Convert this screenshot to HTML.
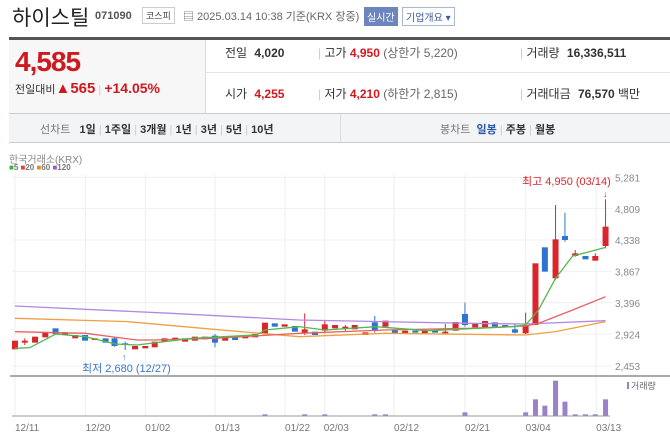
<!DOCTYPE html>
<html><head><meta charset="utf-8">
<style>
*{margin:0;padding:0;box-sizing:border-box}
body{width:670px;height:448px;background:#fff;font-family:"Liberation Sans","Noto Sans CJK KR",sans-serif;position:relative;overflow:hidden;color:#333}
.a{position:absolute;white-space:nowrap}
.r{color:#d0181f}
</style></head><body>
<div class="a" style="left:12px;top:2px;font-size:21px;color:#222">하이스틸</div>
<div class="a" style="left:95px;top:10px;font-size:11px;font-weight:bold;color:#555">071090</div>
<div class="a" style="left:142px;top:7px;font-size:9px;border:1px solid #ccc;padding:1px 3px;color:#444">코스피</div>
<div class="a" style="left:183px;top:8px;font-size:11px;color:#666">▤ 2025.03.14 10:38 기준(KRX 장중)</div>
<div class="a" style="left:364px;top:7px;font-size:10px;background:#6b86bd;color:#fff;padding:2px 3px">실시간</div>
<div class="a" style="left:402px;top:7px;font-size:10px;border:1px solid #aab8d6;color:#3c5a9a;padding:1px 3px">기업개요 ▾</div>
<div class="a" style="left:9px;top:37px;width:661px;height:3px;background:#555"></div>
<div class="a" style="left:9px;top:40px;width:197px;height:73px;background:#f7f7f7;border-right:1px solid #ddd"></div>
<div class="a r" style="left:15px;top:46px;font-size:28px;font-weight:bold;letter-spacing:-1px">4,585</div>
<div class="a" style="left:15px;top:80px;font-size:11px;color:#333">전일대비<span class="r" style="font-size:15px;font-weight:bold">▲565</span> <span style="color:#ccc">|</span> <span class="r" style="font-size:14px;font-weight:bold">+14.05%</span></div>
<div class="a" style="left:206px;top:72px;width:464px;height:1px;background:#e6e6e6"></div>
<div class="a" style="left:225px;top:44px;font-size:12px">전일 <b style="margin-left:4px">4,020</b></div>
<div class="a" style="left:318px;top:44px;font-size:12px"><span style="color:#ccc">|</span> 고가 <b class="r">4,950</b> <span style="color:#666">(상한가 5,220)</span></div>
<div class="a" style="left:520px;top:44px;font-size:12px"><span style="color:#ccc">|</span> 거래량 <b style="margin-left:4px">16,336,511</b></div>
<div class="a" style="left:225px;top:85px;font-size:12px">시가 <b class="r" style="margin-left:4px">4,255</b></div>
<div class="a" style="left:318px;top:85px;font-size:12px"><span style="color:#ccc">|</span> 저가 <b class="r">4,210</b> <span style="color:#666">(하한가 2,815)</span></div>
<div class="a" style="left:520px;top:85px;font-size:12px"><span style="color:#ccc">|</span> 거래대금 <b style="margin-left:4px">76,570</b> 백만</div>
<div class="a" style="left:9px;top:113px;width:661px;height:30px;background:#f3f4f6;border-top:1px solid #ccc;border-bottom:1px solid #ccc"></div>
<div class="a" style="left:340px;top:114px;width:1px;height:28px;background:#ddd"></div>
<div class="a" style="left:40px;top:121px;font-size:11px;color:#333"><span style="color:#777">선차트</span>&nbsp;&nbsp; <b>1일</b> <span style="color:#ccc">|</span> <b>1주일</b> <span style="color:#ccc">|</span> <b>3개월</b> <span style="color:#ccc">|</span> <b>1년</b> <span style="color:#ccc">|</span> <b>3년</b> <span style="color:#ccc">|</span> <b>5년</b> <span style="color:#ccc">|</span> <b>10년</b></div>
<div class="a" style="left:440px;top:121px;font-size:11px;color:#333"><span style="color:#777">봉차트</span>&nbsp; <b style="color:#2a5ab0">일봉</b> <span style="color:#ccc">|</span> <b>주봉</b> <span style="color:#ccc">|</span> <b>월봉</b></div>
<div class="a" style="left:9px;top:151px;font-size:10px;color:#888">한국거래소(KRX)</div>
<div class="a" style="left:9px;top:163px;font-size:8px;font-weight:bold;color:#777"><span style="color:#3cb043">■</span>5 <span style="color:#e04040">■</span>20 <span style="color:#f08a20">■</span>60 <span style="color:#9a5cc8">■</span>120</div>
<svg class="a" style="left:0;top:0" width="670" height="448" id="s"></svg>
<script>
const X=z=>z/2.34, Y=z=>170+z/3;
let h='';
const gx=[35,200,340,503,667,760,922,1088,1230,1395];
gx.forEach(g=>h+=`<line x1="${X(g)}" y1="175" x2="${X(g)}" y2="416" stroke="#eee"/>`);
[22,116,210,304,398,492,588].forEach(g=>h+=`<line x1="12" y1="${Y(g)}" x2="612" y2="${Y(g)}" stroke="#f0f0f0"/>`);
h+=`<line x1="10" y1="376" x2="670" y2="376" stroke="#aaa" stroke-width="2"/>`;
h+=`<line x1="12" y1="416" x2="610" y2="416" stroke="#999"/>`;
const labs=['5,281','4,809','4,338','3,867','3,396','2,924','2,453'];
labs.forEach((l,i)=>h+=`<text x="615" y="${Y(22+i*94.3)+4}" font-size="10" fill="#888">${l}</text>`);
const dl=['12/11','12/20','01/02','01/13','01/22','02/03','02/12','02/21','03/04','03/13'];
dl.forEach((d,i)=>h+=`<text x="${X(gx[i])+(i==5?-1:0)}" y="431" font-size="10" fill="#777">${d}</text>`);
const C=[[35,'r',512,538],[58,'r',512,518,505,525],[82,'r',500,518],[106,'r',488,502],[130,'b',475,492],[152,'r',487,495],[176,'r',495,505],[199,'b',495,512],[222,'r',505,510],[247,'b',505,518],[268,'b',505,528,500,530],[293,'b',520,523,515,540],[316,'r',528,538],[340,'r',528,535],[362,'r',515,532],[385,'r',505,515],[410,'r',503,508],[433,'r',505,515],[456,'r',500,512],[479,'r',500,508],[503,'b',497,518,492,532],[527,'r',500,512],[550,'b',502,510],[574,'r',500,505],[597,'r',492,502],[620,'r',458,492],[643,'b',460,470],[666,'r',463,470],[690,'b',468,485],[713,'r',478,490,430,495],[737,'b',485,495],[760,'r',463,482,450,490],[784,'r',465,475],[808,'r',470,475,465,482],[830,'r',465,478],[855,'r',487,495],[877,'b',457,483,438,488],[902,'r',452,470],[924,'b',480,490],[948,'r',482,490],[972,'b',482,488],[994,'r',482,490],[1018,'b',480,488],[1042,'r',485,490,462,492],[1066,'r',456,482],[1088,'b',432,465,398,470],[1112,'r',462,472],[1135,'r',453,472],[1158,'b',457,470],[1182,'b',465,472],[1205,'b',478,488,462,490],[1230,'r',465,490,428,492],[1253,'r',280,465],[1275,'b',232,305],[1300,'r',208,325,105,330],[1322,'b',198,210,128,215],[1346,'r',250,258,240,260],[1370,'b',258,268],[1393,'r',258,272,250,272],[1417,'r',170,228,88,235]];
C.forEach(c=>{const col=c[1]=='r'?'#d9262c':'#2f73d0';const x=X(c[0]);
if(c[4])h+=`<line x1="${x}" y1="${Y(c[4])}" x2="${x}" y2="${Y(c[5])}" stroke="${col}"/>`;
h+=`<rect x="${x-3}" y="${Y(c[2])}" width="6" height="${Math.max(1.5,(c[3]-c[2])/3)}" fill="${col}"/>`;});
const L=(pts,col)=>h+=`<polyline fill="none" stroke="${col}" stroke-width="1.3" points="${pts.map(p=>X(p[0])+','+Y(p[1])).join(' ')}"/>`;
L([[35,408],[400,430],[700,450],[1100,460],[1230,462],[1417,452]],'#b08ae0');
L([[35,445],[300,455],[500,478],[700,500],[900,490],[1230,495],[1300,485],[1417,455]],'#f0a040');
L([[35,485],[200,490],[320,510],[360,510],[500,505],[700,490],[900,480],[1100,475],[1230,468],[1260,460],[1340,420],[1417,380]],'#e86060');
L([[35,535],[70,533],[130,492],[200,500],[270,522],[320,525],[450,505],[600,495],[620,480],[700,470],[760,480],[880,470],[1000,482],[1200,470],[1230,465],[1260,420],[1300,325],[1340,258],[1380,245],[1417,232]],'#50b850');
const V=[[620,733],[713,733],[760,733],[877,733],[902,733],[1088,727],[1230,727],[1253,688],[1275,707],[1300,632],[1322,695],[1346,733],[1370,733],[1393,733],[1417,688]];
V.forEach(v=>h+=`<rect x="${X(v[0])-2.5}" y="${Y(v[1])}" width="5" height="${(737-v[1])/3}" fill="#9b82c8"/>`);
h+=`<rect x="627" y="382" width="2" height="7" fill="#9b82c8"/><text x="631" y="389" font-size="9" fill="#666">거래량</text>`;
h+=`<text x="522" y="185" font-size="11" fill="#d9262c">최고 4,950 (03/14)</text>`;
h+=`<text x="603" y="197" font-size="9" fill="#d9262c">↓</text>`;
h+=`<text x="82" y="372" font-size="11" fill="#3a78c8">최저 2,680 (12/27)</text>`;
h+=`<text x="122" y="360" font-size="9" fill="#3a78c8">↑</text>`;
document.getElementById('s').innerHTML=h;
</script>
</body></html>
